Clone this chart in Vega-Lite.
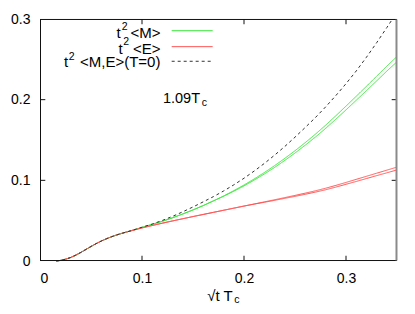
{
  "$schema": "https://vega.github.io/schema/vega-lite/v6.json",
  "width": 357,
  "height": 242,
  "autosize": "none",
  "padding": {"left": 40, "top": 19, "right": 18, "bottom": 53},
  "config": {
    "view": {"stroke": null},
    "font": "Liberation Sans",
    "axis": {
      "grid": false,
      "domain": false,
      "ticks": false,
      "labelColor": "black",
      "labelFont": "Liberation Sans",
      "labelFontSize": 14,
      "labelPadding": 10,
      "title": null
    }
  },
  "datasets": {
    "curves": [
      {"s": "M1", "x": 0.016, "y": 0}, {"s": "M1", "x": 0.02, "y": 0.0007}, {"s": "M1", "x": 0.025, "y": 0.0022}, {"s": "M1", "x": 0.03, "y": 0.0043}, {"s": "M1", "x": 0.035, "y": 0.0072}, {"s": "M1", "x": 0.04, "y": 0.0106}, {"s": "M1", "x": 0.045, "y": 0.0143}, {"s": "M1", "x": 0.05, "y": 0.018}, {"s": "M1", "x": 0.055, "y": 0.0215}, {"s": "M1", "x": 0.06, "y": 0.0247}, {"s": "M1", "x": 0.065, "y": 0.0275}, {"s": "M1", "x": 0.07, "y": 0.03}, {"s": "M1", "x": 0.075, "y": 0.0322}, {"s": "M1", "x": 0.08, "y": 0.0342}, {"s": "M1", "x": 0.085, "y": 0.036}, {"s": "M1", "x": 0.09, "y": 0.0378},
      {"s": "M1", "x": 0.1, "y": 0.0417}, {"s": "M1", "x": 0.11, "y": 0.0454}, {"s": "M1", "x": 0.12, "y": 0.0493}, {"s": "M1", "x": 0.13, "y": 0.0536}, {"s": "M1", "x": 0.14, "y": 0.0583}, {"s": "M1", "x": 0.15, "y": 0.0633}, {"s": "M1", "x": 0.16, "y": 0.0687}, {"s": "M1", "x": 0.17, "y": 0.0745}, {"s": "M1", "x": 0.18, "y": 0.0806}, {"s": "M1", "x": 0.19, "y": 0.0872}, {"s": "M1", "x": 0.2, "y": 0.0942}, {"s": "M1", "x": 0.21, "y": 0.1017}, {"s": "M1", "x": 0.22, "y": 0.1097}, {"s": "M1", "x": 0.23, "y": 0.1182}, {"s": "M1", "x": 0.24, "y": 0.1272}, {"s": "M1", "x": 0.25, "y": 0.1367}, {"s": "M1", "x": 0.26, "y": 0.1467}, {"s": "M1", "x": 0.27, "y": 0.1572}, {"s": "M1", "x": 0.28, "y": 0.1683}, {"s": "M1", "x": 0.29, "y": 0.18}, {"s": "M1", "x": 0.3, "y": 0.192}, {"s": "M1", "x": 0.31, "y": 0.2042}, {"s": "M1", "x": 0.32, "y": 0.2165}, {"s": "M1", "x": 0.33, "y": 0.229}, {"s": "M1", "x": 0.34, "y": 0.2415}, {"s": "M1", "x": 0.35, "y": 0.2535},
      {"s": "M2", "x": 0.016, "y": 0}, {"s": "M2", "x": 0.02, "y": 0.0007}, {"s": "M2", "x": 0.025, "y": 0.0022}, {"s": "M2", "x": 0.03, "y": 0.0043}, {"s": "M2", "x": 0.035, "y": 0.0072}, {"s": "M2", "x": 0.04, "y": 0.0106}, {"s": "M2", "x": 0.045, "y": 0.0143}, {"s": "M2", "x": 0.05, "y": 0.018}, {"s": "M2", "x": 0.055, "y": 0.0215}, {"s": "M2", "x": 0.06, "y": 0.0247}, {"s": "M2", "x": 0.065, "y": 0.0275}, {"s": "M2", "x": 0.07, "y": 0.03}, {"s": "M2", "x": 0.075, "y": 0.0322}, {"s": "M2", "x": 0.08, "y": 0.0342}, {"s": "M2", "x": 0.085, "y": 0.036}, {"s": "M2", "x": 0.09, "y": 0.0378},
      {"s": "M2", "x": 0.1, "y": 0.0417}, {"s": "M2", "x": 0.11, "y": 0.0454}, {"s": "M2", "x": 0.12, "y": 0.0493}, {"s": "M2", "x": 0.13, "y": 0.0536}, {"s": "M2", "x": 0.14, "y": 0.0583}, {"s": "M2", "x": 0.15, "y": 0.0633}, {"s": "M2", "x": 0.16, "y": 0.0687}, {"s": "M2", "x": 0.17, "y": 0.0745}, {"s": "M2", "x": 0.18, "y": 0.0802}, {"s": "M2", "x": 0.19, "y": 0.0865}, {"s": "M2", "x": 0.2, "y": 0.0931}, {"s": "M2", "x": 0.21, "y": 0.1003}, {"s": "M2", "x": 0.22, "y": 0.1079}, {"s": "M2", "x": 0.23, "y": 0.116}, {"s": "M2", "x": 0.24, "y": 0.1247}, {"s": "M2", "x": 0.25, "y": 0.1338}, {"s": "M2", "x": 0.26, "y": 0.1435}, {"s": "M2", "x": 0.27, "y": 0.1536}, {"s": "M2", "x": 0.28, "y": 0.1643}, {"s": "M2", "x": 0.29, "y": 0.1757}, {"s": "M2", "x": 0.3, "y": 0.1873}, {"s": "M2", "x": 0.31, "y": 0.1992}, {"s": "M2", "x": 0.32, "y": 0.2111}, {"s": "M2", "x": 0.33, "y": 0.2232}, {"s": "M2", "x": 0.34, "y": 0.2354}, {"s": "M2", "x": 0.35, "y": 0.247},
      {"s": "E1", "x": 0.016, "y": 0}, {"s": "E1", "x": 0.02, "y": 0.0007}, {"s": "E1", "x": 0.025, "y": 0.0022}, {"s": "E1", "x": 0.03, "y": 0.0043}, {"s": "E1", "x": 0.035, "y": 0.0072}, {"s": "E1", "x": 0.04, "y": 0.0106}, {"s": "E1", "x": 0.045, "y": 0.0143}, {"s": "E1", "x": 0.05, "y": 0.018}, {"s": "E1", "x": 0.055, "y": 0.0215}, {"s": "E1", "x": 0.06, "y": 0.0247}, {"s": "E1", "x": 0.065, "y": 0.0275}, {"s": "E1", "x": 0.07, "y": 0.03}, {"s": "E1", "x": 0.075, "y": 0.0322}, {"s": "E1", "x": 0.08, "y": 0.0342}, {"s": "E1", "x": 0.085, "y": 0.036}, {"s": "E1", "x": 0.09, "y": 0.0377},
      {"s": "E1", "x": 0.1, "y": 0.041}, {"s": "E1", "x": 0.11, "y": 0.044}, {"s": "E1", "x": 0.12, "y": 0.0469}, {"s": "E1", "x": 0.13, "y": 0.0497}, {"s": "E1", "x": 0.14, "y": 0.0524}, {"s": "E1", "x": 0.15, "y": 0.0551}, {"s": "E1", "x": 0.16, "y": 0.0577}, {"s": "E1", "x": 0.17, "y": 0.0603}, {"s": "E1", "x": 0.18, "y": 0.0629}, {"s": "E1", "x": 0.19, "y": 0.0655}, {"s": "E1", "x": 0.2, "y": 0.0681}, {"s": "E1", "x": 0.21, "y": 0.0707}, {"s": "E1", "x": 0.22, "y": 0.0733}, {"s": "E1", "x": 0.23, "y": 0.0759}, {"s": "E1", "x": 0.24, "y": 0.0786}, {"s": "E1", "x": 0.25, "y": 0.0813}, {"s": "E1", "x": 0.26, "y": 0.0841}, {"s": "E1", "x": 0.27, "y": 0.087}, {"s": "E1", "x": 0.28, "y": 0.0902}, {"s": "E1", "x": 0.29, "y": 0.0937}, {"s": "E1", "x": 0.3, "y": 0.0974}, {"s": "E1", "x": 0.31, "y": 0.1012}, {"s": "E1", "x": 0.32, "y": 0.105}, {"s": "E1", "x": 0.33, "y": 0.1088}, {"s": "E1", "x": 0.34, "y": 0.1126}, {"s": "E1", "x": 0.35, "y": 0.1164},
      {"s": "E2", "x": 0.016, "y": 0}, {"s": "E2", "x": 0.02, "y": 0.0007}, {"s": "E2", "x": 0.025, "y": 0.0022}, {"s": "E2", "x": 0.03, "y": 0.0043}, {"s": "E2", "x": 0.035, "y": 0.0072}, {"s": "E2", "x": 0.04, "y": 0.0106}, {"s": "E2", "x": 0.045, "y": 0.0143}, {"s": "E2", "x": 0.05, "y": 0.018}, {"s": "E2", "x": 0.055, "y": 0.0215}, {"s": "E2", "x": 0.06, "y": 0.0247}, {"s": "E2", "x": 0.065, "y": 0.0275}, {"s": "E2", "x": 0.07, "y": 0.03}, {"s": "E2", "x": 0.075, "y": 0.0322}, {"s": "E2", "x": 0.08, "y": 0.0342}, {"s": "E2", "x": 0.085, "y": 0.036}, {"s": "E2", "x": 0.09, "y": 0.0377},
      {"s": "E2", "x": 0.1, "y": 0.041}, {"s": "E2", "x": 0.11, "y": 0.044}, {"s": "E2", "x": 0.12, "y": 0.0469}, {"s": "E2", "x": 0.13, "y": 0.0497}, {"s": "E2", "x": 0.14, "y": 0.0524}, {"s": "E2", "x": 0.15, "y": 0.0551}, {"s": "E2", "x": 0.16, "y": 0.0577}, {"s": "E2", "x": 0.17, "y": 0.0603}, {"s": "E2", "x": 0.18, "y": 0.0629}, {"s": "E2", "x": 0.19, "y": 0.0655}, {"s": "E2", "x": 0.2, "y": 0.0681}, {"s": "E2", "x": 0.21, "y": 0.0705}, {"s": "E2", "x": 0.22, "y": 0.0728}, {"s": "E2", "x": 0.23, "y": 0.0752}, {"s": "E2", "x": 0.24, "y": 0.0777}, {"s": "E2", "x": 0.25, "y": 0.0801}, {"s": "E2", "x": 0.26, "y": 0.0827}, {"s": "E2", "x": 0.27, "y": 0.0854}, {"s": "E2", "x": 0.28, "y": 0.0883}, {"s": "E2", "x": 0.29, "y": 0.0916}, {"s": "E2", "x": 0.3, "y": 0.0951}, {"s": "E2", "x": 0.31, "y": 0.0986}, {"s": "E2", "x": 0.32, "y": 0.1022}, {"s": "E2", "x": 0.33, "y": 0.1058}, {"s": "E2", "x": 0.34, "y": 0.1093}, {"s": "E2", "x": 0.35, "y": 0.1129},
      {"s": "T0", "x": 0.016, "y": 0}, {"s": "T0", "x": 0.02, "y": 0.0007}, {"s": "T0", "x": 0.025, "y": 0.0022}, {"s": "T0", "x": 0.03, "y": 0.0043}, {"s": "T0", "x": 0.035, "y": 0.0072}, {"s": "T0", "x": 0.04, "y": 0.0106}, {"s": "T0", "x": 0.045, "y": 0.0143}, {"s": "T0", "x": 0.05, "y": 0.018}, {"s": "T0", "x": 0.055, "y": 0.0215}, {"s": "T0", "x": 0.06, "y": 0.0247}, {"s": "T0", "x": 0.065, "y": 0.0275}, {"s": "T0", "x": 0.07, "y": 0.03}, {"s": "T0", "x": 0.075, "y": 0.0322}, {"s": "T0", "x": 0.08, "y": 0.0342}, {"s": "T0", "x": 0.085, "y": 0.036}, {"s": "T0", "x": 0.09, "y": 0.0378},
      {"s": "T0", "x": 0.1, "y": 0.0419}, {"s": "T0", "x": 0.11, "y": 0.0458}, {"s": "T0", "x": 0.12, "y": 0.0503}, {"s": "T0", "x": 0.13, "y": 0.0554}, {"s": "T0", "x": 0.14, "y": 0.061}, {"s": "T0", "x": 0.15, "y": 0.067}, {"s": "T0", "x": 0.16, "y": 0.0733}, {"s": "T0", "x": 0.17, "y": 0.0798}, {"s": "T0", "x": 0.18, "y": 0.0868}, {"s": "T0", "x": 0.19, "y": 0.0944}, {"s": "T0", "x": 0.2, "y": 0.1026}, {"s": "T0", "x": 0.21, "y": 0.1115}, {"s": "T0", "x": 0.22, "y": 0.121}, {"s": "T0", "x": 0.23, "y": 0.1312}, {"s": "T0", "x": 0.24, "y": 0.142}, {"s": "T0", "x": 0.25, "y": 0.1535}, {"s": "T0", "x": 0.26, "y": 0.1655}, {"s": "T0", "x": 0.27, "y": 0.1778}, {"s": "T0", "x": 0.28, "y": 0.191}, {"s": "T0", "x": 0.29, "y": 0.205}, {"s": "T0", "x": 0.3, "y": 0.2198}, {"s": "T0", "x": 0.31, "y": 0.2355}, {"s": "T0", "x": 0.32, "y": 0.2525}, {"s": "T0", "x": 0.33, "y": 0.2705}, {"s": "T0", "x": 0.34, "y": 0.2893}, {"s": "T0", "x": 0.3456, "y": 0.3}
    ]
  },
  "layer": [
    {
      "data": {"name": "curves"},
      "mark": {"type": "line", "strokeWidth": 1},
      "encoding": {
        "x": {"field": "x", "type": "quantitative", "scale": {"domain": [0, 0.35], "nice": false, "zero": false},
              "axis": {"orient": "bottom", "values": [0, 0.1, 0.2, 0.3], "format": "~g"}},
        "y": {"field": "y", "type": "quantitative", "scale": {"domain": [0, 0.3], "nice": false, "zero": false},
              "axis": {"orient": "left", "values": [0, 0.1, 0.2, 0.3], "format": "~g"}},
        "color": {"field": "s", "type": "nominal", "legend": null,
                  "scale": {"domain": ["M1", "M2", "E1", "E2", "T0"], "range": ["#3ee83e", "#3ee83e", "#ff5555", "#ff5555", "#333333"]}},
        "strokeDash": {"field": "s", "type": "nominal", "legend": null,
                  "scale": {"domain": ["M1", "M2", "E1", "E2", "T0"], "range": [[1, 0], [1, 0], [1, 0], [1, 0], [3, 3]]}}
      }
    },
    {
      "data": {"values": [{"t": "t", "p": "2", "rest": "<M>"}]},
      "layer": [
        {"mark": {"type": "text", "align": "right", "baseline": "middle", "fontSize": 15, "color": "black"},
         "encoding": {"x": {"datum": 0.0791}, "y": {"datum": 0.2826}, "text": {"field": "t"}}},
        {"mark": {"type": "text", "align": "left", "baseline": "middle", "fontSize": 10.5, "color": "black"},
         "encoding": {"x": {"datum": 0.0801}, "y": {"datum": 0.2897}, "text": {"field": "p"}}},
        {"mark": {"type": "text", "align": "right", "baseline": "middle", "fontSize": 15, "color": "black"},
         "encoding": {"x": {"datum": 0.1181}, "y": {"datum": 0.2826}, "text": {"field": "rest"}}},
        {"mark": {"type": "rule", "color": "#3ee83e", "strokeWidth": 1},
         "encoding": {"x": {"datum": 0.1291}, "x2": {"datum": 0.1693}, "y": {"datum": 0.2855}}}
      ]
    },
    {
      "data": {"values": [{"t": "t", "p": "2", "rest": "<E>"}]},
      "layer": [
        {"mark": {"type": "text", "align": "right", "baseline": "middle", "fontSize": 15, "color": "black"},
         "encoding": {"x": {"datum": 0.0811}, "y": {"datum": 0.2632}, "text": {"field": "t"}}},
        {"mark": {"type": "text", "align": "left", "baseline": "middle", "fontSize": 10.5, "color": "black"},
         "encoding": {"x": {"datum": 0.0817}, "y": {"datum": 0.2712}, "text": {"field": "p"}}},
        {"mark": {"type": "text", "align": "right", "baseline": "middle", "fontSize": 15, "color": "black"},
         "encoding": {"x": {"datum": 0.1181}, "y": {"datum": 0.2632}, "text": {"field": "rest"}}},
        {"mark": {"type": "rule", "color": "#ff5555", "strokeWidth": 1},
         "encoding": {"x": {"datum": 0.1291}, "x2": {"datum": 0.1693}, "y": {"datum": 0.2657}}}
      ]
    },
    {
      "data": {"values": [{"t": "t", "p": "2", "rest": "<M,E>(T=0)"}]},
      "layer": [
        {"mark": {"type": "text", "align": "right", "baseline": "middle", "fontSize": 15, "color": "black"},
         "encoding": {"x": {"datum": 0.0275}, "y": {"datum": 0.2463}, "text": {"field": "t"}}},
        {"mark": {"type": "text", "align": "left", "baseline": "middle", "fontSize": 10.5, "color": "black"},
         "encoding": {"x": {"datum": 0.0281}, "y": {"datum": 0.2529}, "text": {"field": "p"}}},
        {"mark": {"type": "text", "align": "right", "baseline": "middle", "fontSize": 15, "color": "black"},
         "encoding": {"x": {"datum": 0.1181}, "y": {"datum": 0.2463}, "text": {"field": "rest"}}},
        {"mark": {"type": "rule", "color": "#333333", "strokeWidth": 1, "strokeDash": [3, 3]},
         "encoding": {"x": {"datum": 0.1291}, "x2": {"datum": 0.1693}, "y": {"datum": 0.2476}}}
      ]
    },
    {
      "data": {"values": [{"main": "1.09T", "sub": "c"}]},
      "layer": [
        {"mark": {"type": "text", "align": "right", "baseline": "middle", "fontSize": 14.5, "color": "black"},
         "encoding": {"x": {"datum": 0.1569}, "y": {"datum": 0.2008}, "text": {"field": "main"}}},
        {"mark": {"type": "text", "align": "left", "baseline": "middle", "fontSize": 10.5, "color": "black"},
         "encoding": {"x": {"datum": 0.1585}, "y": {"datum": 0.1962}, "text": {"field": "sub"}}}
      ]
    },
    {
      "data": {"values": [{"main": "√t T", "sub": "c"}]},
      "layer": [
        {"mark": {"type": "text", "align": "right", "baseline": "middle", "fontSize": 15, "color": "black"},
         "encoding": {"x": {"datum": 0.1889}, "y": {"datum": -0.0434}, "text": {"field": "main"}}},
        {"mark": {"type": "text", "align": "left", "baseline": "middle", "fontSize": 10.5, "color": "black"},
         "encoding": {"x": {"datum": 0.1905}, "y": {"datum": -0.0484}, "text": {"field": "sub"}}}
      ]
    },
    {
      "data": {"values": [{"edge": "bottom"}]},
      "layer": [
        {"mark": {"type": "rule", "color": "#111111", "strokeWidth": 1},
         "encoding": {"x": {"datum": 0}, "x2": {"datum": 0.35}, "y": {"datum": 0.0006}}},
        {"mark": {"type": "rule", "color": "#111111", "strokeWidth": 1},
         "encoding": {"x": {"datum": 0}, "x2": {"datum": 0.35}, "y": {"datum": 0.2994}}}
      ]
    },
    {
      "data": {"values": [
        {"id": "b1", "tx": 0.1, "ty": 0.0006}, {"id": "b1", "tx": 0.1, "ty": 0.0065},
        {"id": "b2", "tx": 0.2, "ty": 0.0006}, {"id": "b2", "tx": 0.2, "ty": 0.0065},
        {"id": "b3", "tx": 0.3, "ty": 0.0006}, {"id": "b3", "tx": 0.3, "ty": 0.0065},
        {"id": "t1", "tx": 0.1, "ty": 0.2994}, {"id": "t1", "tx": 0.1, "ty": 0.2935},
        {"id": "t2", "tx": 0.2, "ty": 0.2994}, {"id": "t2", "tx": 0.2, "ty": 0.2935},
        {"id": "t3", "tx": 0.3, "ty": 0.2994}, {"id": "t3", "tx": 0.3, "ty": 0.2935},
        {"id": "l1", "tx": 0.0005, "ty": 0.1}, {"id": "l1", "tx": 0.0052, "ty": 0.1},
        {"id": "l2", "tx": 0.0005, "ty": 0.2}, {"id": "l2", "tx": 0.0052, "ty": 0.2},
        {"id": "r1", "tx": 0.3495, "ty": 0.1}, {"id": "r1", "tx": 0.3448, "ty": 0.1},
        {"id": "r2", "tx": 0.3495, "ty": 0.2}, {"id": "r2", "tx": 0.3448, "ty": 0.2},
        {"id": "L", "tx": 0.0005, "ty": 0.0006}, {"id": "L", "tx": 0.0005, "ty": 0.2994}
      ]},
      "mark": {"type": "line", "strokeWidth": 1, "color": "#111111"},
      "encoding": {
        "x": {"field": "tx", "type": "quantitative"},
        "y": {"field": "ty", "type": "quantitative"},
        "detail": {"field": "id", "type": "nominal"}
      }
    },
    {
      "data": {"values": [{"seg": "right", "fx": 0.3495, "fy": 0.0006}, {"seg": "right", "fx": 0.3495, "fy": 0.2994}]},
      "mark": {"type": "line", "strokeWidth": 2, "color": "#8a8a8a"},
      "encoding": {
        "x": {"field": "fx", "type": "quantitative"},
        "y": {"field": "fy", "type": "quantitative"}
      }
    }
  ]
}
